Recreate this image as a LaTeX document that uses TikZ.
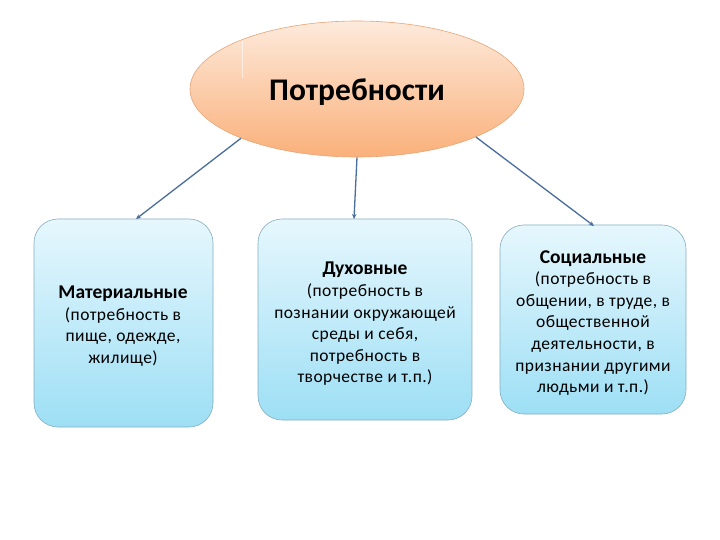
\documentclass[tikz,border=0pt]{standalone}
\usepackage{fontspec}
\setmainfont{Carlito}
\newfontfamily\bodyfont[LetterSpace=2.5]{Carlito}
\usetikzlibrary{shapes.geometric,arrows.meta}
\definecolor{peachtop}{HTML}{FDEADB}
\definecolor{peachbot}{HTML}{FAB07A}
\definecolor{peachline}{HTML}{E6A577}
\definecolor{bluetop}{HTML}{E6F7FD}
\definecolor{bluebot}{HTML}{9DDFF5}
\definecolor{boxline}{HTML}{86AEBE}
\definecolor{arrowc}{HTML}{4A6E9C}
\newcommand{\boxtitleset}{\fontsize{19.5}{21.6}\selectfont\rmfamily\bfseries}
\tikzset{
  need/.style={rounded corners=24pt, draw=boxline, line width=0.6pt,
    top color=bluetop, bottom color=bluebot, shading angle=0},
  boxtext/.style={align=center, font=\bodyfont\fontsize{17.5}{21.6}\selectfont, text=black, inner sep=0pt},
  link/.style={draw=arrowc, line width=1.3pt, -{Stealth[length=5pt,width=4.5pt]}}
}
\begin{document}
\begin{tikzpicture}[x=1pt,y=-1pt]
\useasboundingbox[fill=white] (0,0) rectangle (720,540);
% ellipse
\node[ellipse, draw=peachline, line width=0.6pt, minimum width=334pt, minimum height=136pt,
  top color=peachtop, bottom color=peachbot, inner sep=0pt] (root) at (357,89) {};
\draw[white, line width=1pt, opacity=0.55] (242,42) -- (242,78);
\node[font=\fontsize{31.5}{34}\selectfont\bfseries] (roottxt) at (357,92) {Потребности};
% boxes
\draw[need] (34,219) rectangle (213,427);
\coordinate (b1top) at (136,219);
\draw[need] (258,219) rectangle (472,420);
\coordinate (b2top) at (354,219);
\draw[need] (500,225) rectangle (686,414);
\coordinate (b3top) at (594,226);
\node[boxtext] (t1) at (123,326) {{\boxtitleset Материальные}\\(потребность в\\пище, одежде,\\жилище)};
\node[boxtext] (t2) at (365,324) {{\boxtitleset Духовные}\\(потребность в\\познании окружающей\\среды и себя,\\потребность в\\творчестве и т.п.)};
\node[boxtext] (t3) at (593,323) {{\boxtitleset Социальные}\\(потребность в\\общении, в труде, в\\общественной\\деятельности, в\\признании другими\\людьми и т.п.)};
% connectors
\draw[link] (root.-157) -- (b1top);
\draw[link] (root.south) -- (b2top);
\draw[link] (root.-22) -- (b3top);
\end{tikzpicture}
\end{document}
